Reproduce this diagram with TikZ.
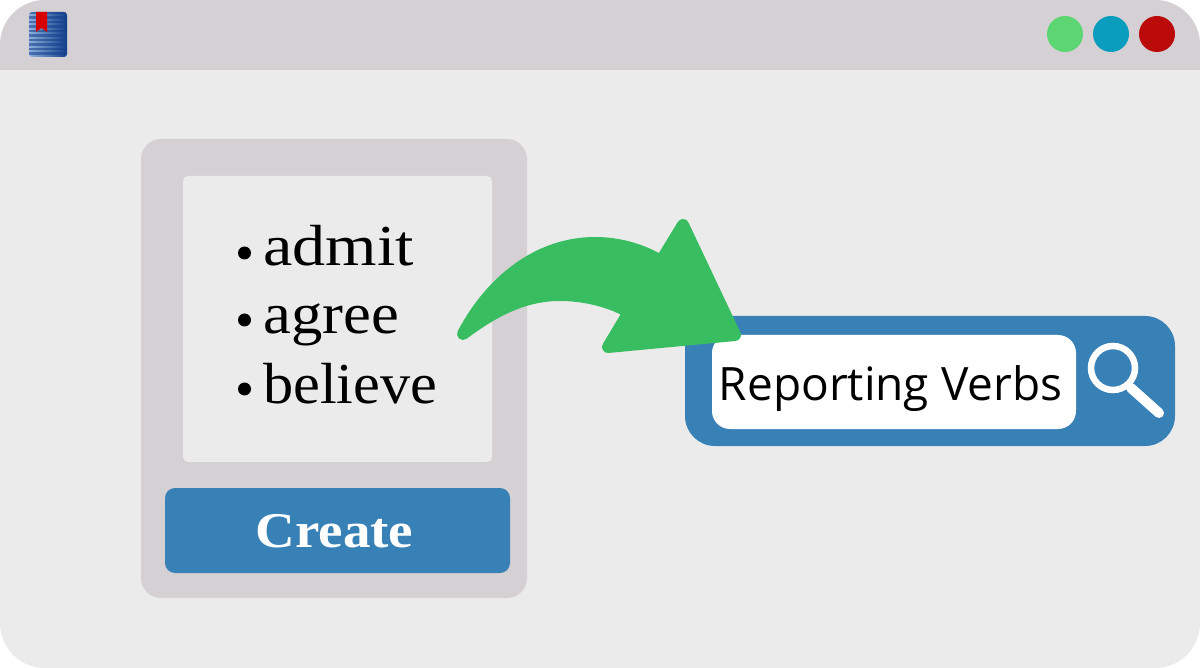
\documentclass[tikz,border=0pt]{standalone}
\usepackage{fontspec}
\setmainfont{Liberation Serif}
\newfontfamily\opensans{Open Sans}
\newfontfamily\wideserif[FakeStretch=1.1]{Liberation Serif}
\newfontfamily\serifadmit[FakeStretch=1.14]{Liberation Serif}
\newfontfamily\serifagree[FakeStretch=1.08]{Liberation Serif}
\newfontfamily\serifbelieve[FakeStretch=1.04]{Liberation Serif}
\usetikzlibrary{calc}
\definecolor{bgc}{HTML}{EBEBEB}
\definecolor{barc}{HTML}{D5D0D4}
\definecolor{bluec}{HTML}{3881B7}
\definecolor{greenc}{HTML}{38BD61}
\definecolor{dotg}{HTML}{5CD672}
\definecolor{dott}{HTML}{0B9DBD}
\definecolor{dotr}{HTML}{BB0A0A}
\definecolor{bookd}{HTML}{123F8C}
\definecolor{bookl}{HTML}{8FB0DC}
\tikzset{
  dot/.style={circle,minimum size=36pt,inner sep=0pt,fill=#1},
  verb/.style={anchor=base west,inner sep=0pt,font=#1\fontsize{58}{58}\selectfont},
  bulletmark/.style={circle,fill=black,minimum size=13pt,inner sep=0pt},
}
\begin{document}
\begin{tikzpicture}[x=1pt,y=-1pt]
\useasboundingbox (0,0) rectangle (1200,668);
\fill[white] (0,0) rectangle (1200,668);
% window
\fill[bgc,rounded corners=45pt] (0,0) rectangle (1200,668);
\begin{scope}
\clip[rounded corners=45pt] (0,0) rectangle (1200,668);
\fill[barc] (0,0) rectangle (1200,70);
\end{scope}
% book icon
\begin{scope}
\clip[rounded corners=3pt] (29,12) rectangle (67,57);
\shade[left color=bookl,right color=bookd] (29,12) rectangle (67,57);
\foreach \yy in {12,16.5,21,25.5,30,34.5,39,43.5,48,52.5}
  \fill[bookd,opacity=.55] (29,\yy) rectangle (67,\yy+2.5);
\end{scope}
\fill[red!85!black] (36,12) -- (47,12) -- (47,32) -- (41.5,28) -- (36,32) -- cycle;
% window buttons
\node[dot=dotg] (btng) at (1065,34) {};
\node[dot=dott] (btnt) at (1111,34) {};
\node[dot=dotr] (btnr) at (1157,34) {};
% left panel
\fill[barc,rounded corners=20pt] (141,139) rectangle (527,598);
\fill[bgc,rounded corners=5pt] (183,176) rectangle (492,462);
\fill[bluec,rounded corners=10pt] (165,488) rectangle (510,573);
\node[bulletmark] (b1) at (244.5,253) {};
\node[bulletmark] (b2) at (244.5,320) {};
\node[bulletmark] (b3) at (244.5,389) {};
\node[verb=\serifadmit] (admit) at (263,266) {admit};
\node[verb=\serifagree] (agree) at (263,334) {agree};
\node[verb=\serifbelieve] (believe) at (263,403) {believe};
\node[font=\wideserif\fontsize{50}{50}\selectfont\bfseries,text=white,inner sep=0pt,anchor=base] (create) at (334.5,547) {Create};
% search box
\fill[bluec,rounded corners=30pt] (685,316) rectangle (1175,446);
\fill[white,rounded corners=18pt] (712,335) rectangle (1076,429);
\node[font=\opensans\fontsize{46}{46}\selectfont,inner sep=0pt,anchor=base] (rv) at (890.5,400) {Reporting Verbs};
% magnifier
\draw[white,line width=6.5pt] (1113,368) circle (22pt);
\draw[white,line width=10pt,line cap=round] (1131,388) -- (1159,413);
% arrow
\fill[greenc,draw=greenc,line width=12pt,line join=round]
  (463,334) .. controls (492,279) and (540,243) .. (595,243)
  .. controls (620,243) and (642,250) .. (661,261)
  -- (683,225) -- (735,335) -- (608,347) -- (629,312)
  .. controls (607,300) and (582,295) .. (560,295)
  .. controls (525,295) and (495,310) .. (463,334) -- cycle;
\end{tikzpicture}
\end{document}
